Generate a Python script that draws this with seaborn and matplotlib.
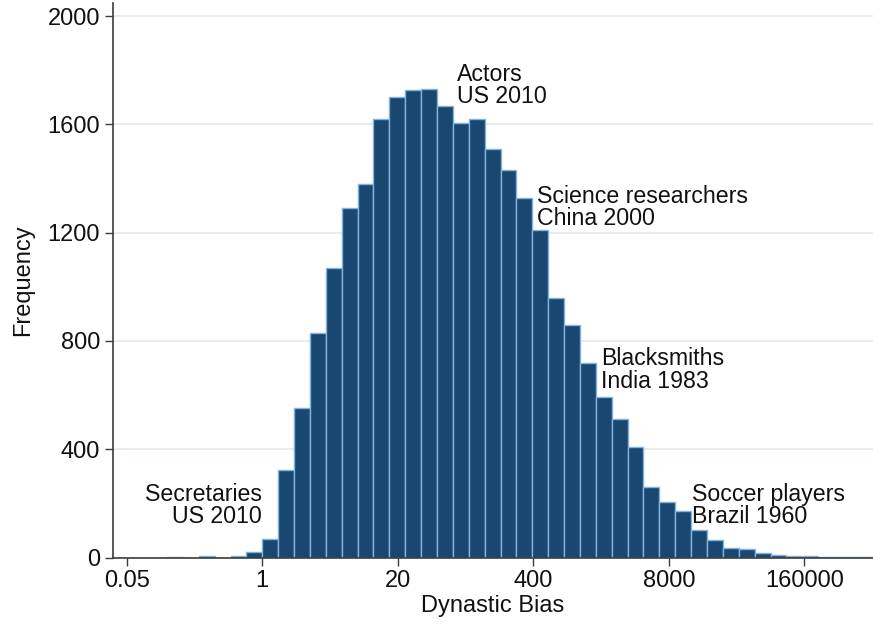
import numpy as np
import pandas as pd
import matplotlib
matplotlib.use("Agg")
import matplotlib.pyplot as plt
import seaborn as sns

# Histogram counts per log-spaced bin (dynastic bias), left to right
counts = [3, 0, 6, 0, 5, 22, 70, 325, 553, 830, 1071, 1292, 1378, 1621, 1699,
          1726, 1732, 1666, 1606, 1621, 1510, 1431, 1326, 1210, 960, 857, 718,
          594, 513, 408, 261, 206, 171, 103, 66, 36, 31, 15, 8, 4, 4, 3, 2, 2, 1]

# Bins are equal-width in log10 units; the 7th edge sits at 1
first_edge_index = -6
bin_width_log10 = 0.1525

tick_values = [0.05, 1, 20, 400, 8000, 160000]
tick_labels = ["0.05", "1", "20", "400", "8000", "160000"]
y_ticks = [0, 400, 800, 1200, 1600, 2000]

# Annotated occupations: (first line, second line, x, baseline y of lines, alignment)
notes = [
    ("Actors", "US 2010", 73.6, (1761, 1678), "left"),
    ("Science researchers", "China 2000", 437, (1311, 1227), "left"),
    ("Blacksmiths", "India 1983", 1787, (710, 626), "left"),
    ("Soccer players", "Brazil 1960", 13450, (210, 127), "left"),
    ("Secretaries", "US 2010", 0.987, (210, 127), "right"),
]

log_edges = (first_edge_index + np.arange(len(counts) + 1)) * bin_width_log10
edges = (10 ** log_edges).tolist()
centers = 10 ** ((log_edges[:-1] + log_edges[1:]) / 2)
df = pd.DataFrame({"bias": centers, "freq": counts})

sns.set_theme(style="white")
plt.rcParams["font.family"] = ["Liberation Sans", "DejaVu Sans"]

fig = plt.figure(figsize=(8.73, 6.24), dpi=100)
ax = fig.add_axes([112.7 / 873, 66.5 / 624, 1 - 112.7 / 873, (557.5 - 3) / 624])

navy = "#1a476f"
sns.histplot(data=df, x="bias", weights="freq", bins=edges, stat="count",
             color=navy, edgecolor="#7db3e3", linewidth=1.0, alpha=1.0, ax=ax)
ax.set_xscale("log")

px_per_unit = (557.5 - 16) / 2000
ax.set_ylim(0, (557.5 - 3) / px_per_unit)
px_per_log10 = 104.15
ax.set_xlim(10 ** ((112.7 - 262.3) / px_per_log10), 10 ** ((873 - 262.3) / px_per_log10))

ax.set_xticks(tick_values)
ax.set_xticklabels(tick_labels)
ax.xaxis.set_minor_locator(matplotlib.ticker.NullLocator())
ax.set_yticks(y_ticks)
ax.set_yticklabels([str(v) for v in y_ticks])

ax.yaxis.grid(True, color="#e4ecec", linewidth=1.3)
ax.xaxis.grid(False)
ax.set_axisbelow(True)

for side in ("top", "right"):
    ax.spines[side].set_visible(False)
for side in ("left", "bottom"):
    ax.spines[side].set_color("#3c3c3c")
    ax.spines[side].set_linewidth(1.2)

ax.tick_params(axis="both", which="major", direction="out", length=6,
               width=1.0, color="#3c3c3c", labelsize=17, labelcolor="#111111", pad=3,
               bottom=True, left=True)

ax.set_xlabel("Dynastic Bias", fontsize=17, color="#111111", labelpad=2)
ax.set_ylabel("Frequency", fontsize=17, color="#111111", labelpad=10)

for line1, line2, x, (y1, y2), ha in notes:
    ax.text(x, y1, line1, ha=ha, va="baseline", fontsize=16.7, color="#111111")
    ax.text(x, y2, line2, ha=ha, va="baseline", fontsize=16.7, color="#111111")

fig.savefig("out.png", dpi=100)
